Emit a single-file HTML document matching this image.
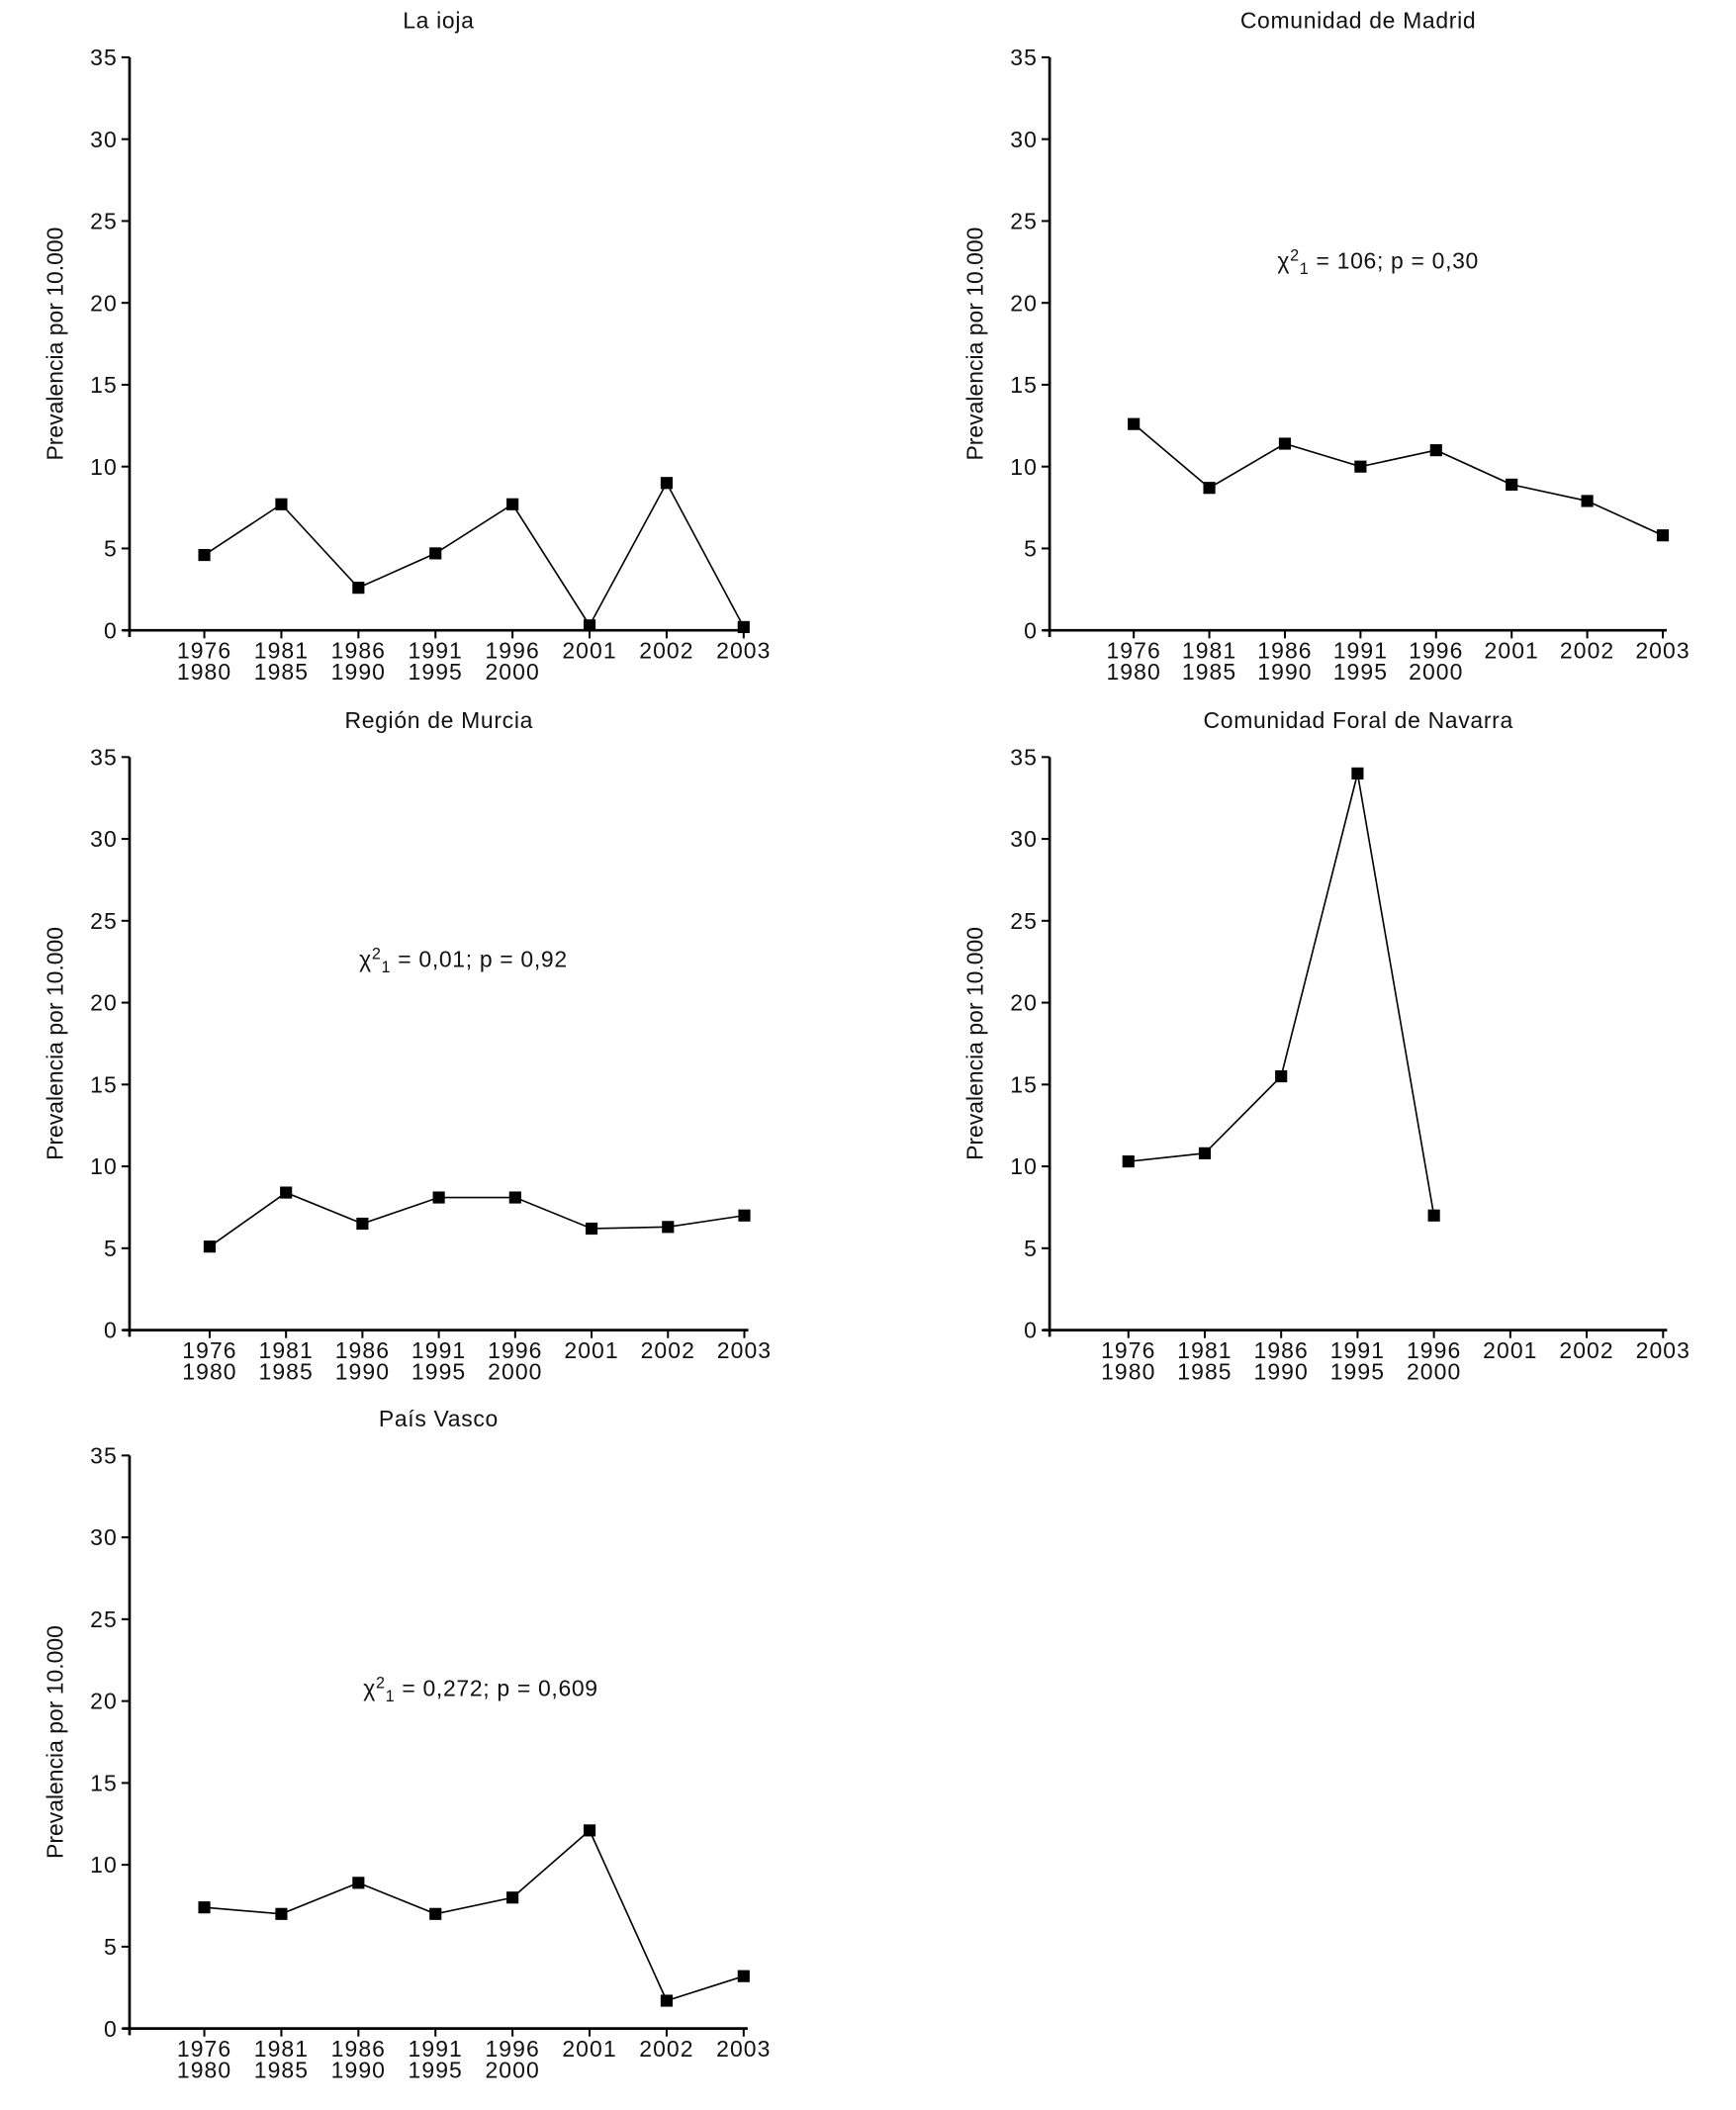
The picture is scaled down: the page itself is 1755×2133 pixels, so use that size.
<!DOCTYPE html>
<html><head><meta charset="utf-8"><style>
html,body{margin:0;padding:0;background:#fff}
svg{display:block}
text{font-family:"Liberation Sans",Arial,sans-serif;fill:#111}
</style></head><body>
<svg id="s" width="1755" height="2133" viewBox="0 0 1300 1580" preserveAspectRatio="none" xmlns="http://www.w3.org/2000/svg"></svg>
<script>
const categoriesTop = ["1976","1981","1986","1991","1996","2001","2002","2003"];
const categoriesBottom = ["1980","1985","1990","1995","2000","","",""];
const yTicks = [0,5,10,15,20,25,30,35];
const rioja = [4.6,7.7,2.6,4.7,7.7,0.3,9.0,0.2];
const madrid = [12.6,8.7,11.4,10.0,11.0,8.9,7.9,5.8];
const murcia = [5.1,8.4,6.5,8.1,8.1,6.2,6.3,7.0];
const navarra = [10.3,10.8,15.5,34.0,7.0];
const vasco = [7.4,7.0,8.9,7.0,8.0,12.1,1.7,3.2];
const titles = ["La  ioja","Comunidad de Madrid","Región de Murcia","Comunidad Foral de Navarra","País Vasco"];
const stats = [null,["106","0,30"],["0,01","0,92"],null,["0,272","0,609"]];

const svg=document.getElementById('s');
const NS='http://www.w3.org/2000/svg';
function mk(t,a,txt){const e=document.createElementNS(NS,t);for(const k in a)e.setAttribute(k,a[k]);if(txt!==undefined)e.textContent=txt;svg.appendChild(e);return e;}
const panels=[
 {ax:97,x0:153,dx:57.7,y0:472,data:rioja,stat:[0,0]},
 {ax:786,x0:849,dx:56.6,y0:472,data:madrid,stat:[1032,195]},
 {ax:97,x0:157,dx:57.2,y0:996,data:murcia,stat:[347,718]},
 {ax:786,x0:845,dx:57.2,y0:996,data:navarra,stat:[0,0]},
 {ax:97,x0:153,dx:57.7,y0:1519,data:vasco,stat:[360,1264]}
];
const PX=12.26;
const FS=17;
panels.forEach((p,i)=>{
 const xs=k=>p.x0+k*p.dx, ys=v=>p.y0-v*PX;
 const xEnd=xs(7)+3;
 const t=mk('text',{x:(p.ax+xEnd)/2,y:p.y0-451,'text-anchor':'middle','font-size':FS,'letter-spacing':0.5},titles[i]);
 
 
 const ya=mk('line',{x1:p.ax,y1:ys(35),x2:p.ax,y2:p.y0+5,stroke:'#000','stroke-width':2});
 
 
 const xa=mk('line',{x1:p.ax-5,y1:p.y0,x2:xEnd,y2:p.y0,stroke:'#000','stroke-width':2});
 
 
 yTicks.forEach(v=>{
  mk('line',{x1:p.ax-6,y1:ys(v),x2:p.ax,y2:ys(v),stroke:'#000','stroke-width':1.5});
  const l=mk('text',{x:p.ax-9,y:ys(v)+6,'text-anchor':'end','font-size':FS,'letter-spacing':0.8},v);
  
  
 });
 categoriesTop.forEach((c,k)=>{
  mk('line',{x1:xs(k),y1:p.y0,x2:xs(k),y2:p.y0+6,stroke:'#000','stroke-width':1.5});
  const l=mk('text',{x:xs(k),y:p.y0+21,'text-anchor':'middle','font-size':FS,'letter-spacing':0.8},c);
  
  
  if(categoriesBottom[k]){const l2=mk('text',{x:xs(k),y:p.y0+37,'text-anchor':'middle','font-size':FS,'letter-spacing':0.8},categoriesBottom[k]);
  
  }
 });
 const cy=(ys(35)+p.y0)/2;
 const yl=mk('text',{x:0,y:0,transform:`translate(${p.ax-50},${cy}) rotate(-90)`,'text-anchor':'middle','font-size':FS},'Prevalencia por 10.000');
 
 
 const pts=p.data.map((v,k)=>xs(k)+','+ys(v)).join(' ');
 const line=mk('polyline',{points:pts,fill:'none',stroke:'#000','stroke-width':1.2});
 
 
 p.data.forEach((v,k)=>{
  const m=mk('rect',{x:xs(k)-4.5,y:ys(v)-4.5,width:9,height:9,fill:'#000'});
  
  
 });
 if(stats[i]){
  const st=mk('text',{x:p.stat[0],y:p.stat[1]+6,'text-anchor':'middle','font-size':FS,'letter-spacing':0.5});
  
  
  st.innerHTML=`χ<tspan dy="-6" font-size="12">2</tspan><tspan dy="10" font-size="12">1</tspan><tspan dy="-4"> = ${stats[i][0]}; p = ${stats[i][1]}</tspan>`;
 }
});
</script>
</body></html>
